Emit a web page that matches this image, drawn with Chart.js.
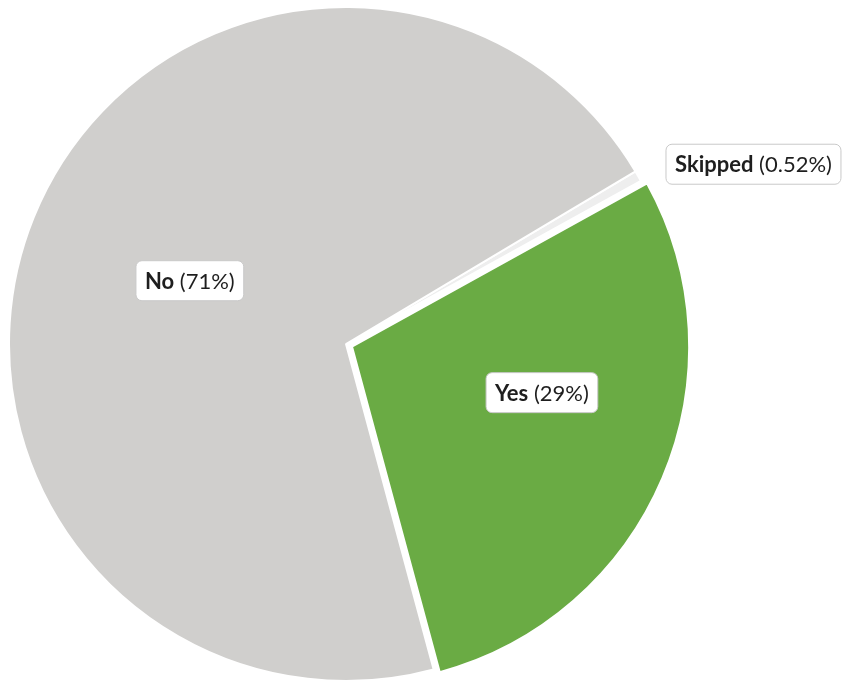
<!DOCTYPE html>
<html lang="en">
<head>
    <meta charset="UTF-8">
    <title>Survey answers</title>
    <style>
        body { margin: 0; background: #fff; }
    </style>
</head>
<body>
    <canvas id="pieChart" width="846" height="685"></canvas>

    <script src="https://cdn.jsdelivr.net/npm/chart.js"></script>

    <script>
        // Answers, in drawing order (clockwise from the rotation start)
        const answers = ['Skipped', 'Yes', 'No'];
        const shares = [0.52, 29, 71];          // percent
        const sliceColors = ['#eeeeee', '#6aab44', '#d0cfcd'];
        // Chart.js moves an arc by offset / 4 pixels
        const sliceOffsets = [0, 26, 0];

        // where each label box sits: fraction along the slice angle, fraction of radius
        const labelSpots = [
            { along: 0.5, radius: 1.095, align: 'left' },
            { along: 0.41, radius: 0.58, align: 'center' },
            { along: 0.5, radius: 0.5, align: 'center' },
        ];

        const FONT = 'Lato, "Open Sans", sans-serif';
        const FONT_SIZE = 22;

        function roundRect(c, x, y, w, h, r) {
            c.beginPath();
            c.moveTo(x + r, y);
            c.arcTo(x + w, y, x + w, y + h, r);
            c.arcTo(x + w, y + h, x, y + h, r);
            c.arcTo(x, y + h, x, y, r);
            c.arcTo(x, y, x + w, y, r);
            c.closePath();
        }

        const sliceLabels = {
            id: 'sliceLabels',
            afterDatasetsDraw(chart) {
                const c = chart.ctx;
                const arcs = chart.getDatasetMeta(0).data;
                arcs.forEach((arc, i) => {
                    const p = arc.getProps(['x', 'y', 'startAngle', 'endAngle', 'outerRadius'], true);
                    const spot = labelSpots[i];
                    const a = p.startAngle + (p.endAngle - p.startAngle) * spot.along;
                    const mid = (p.startAngle + p.endAngle) / 2;
                    const off = sliceOffsets[i] / 4;
                    let x = p.x + Math.cos(a) * p.outerRadius * spot.radius + Math.cos(mid) * off;
                    let y = p.y + Math.sin(a) * p.outerRadius * spot.radius + Math.sin(mid) * off;

                    const bold = answers[i];
                    const rest = ' (' + shares[i] + '%)';
                    c.font = 'bold ' + FONT_SIZE + 'px ' + FONT;
                    const wb = c.measureText(bold).width;
                    c.font = FONT_SIZE + 'px ' + FONT;
                    const wr = c.measureText(rest).width;
                    const padX = 9, h = 40;
                    const w = wb + wr + padX * 2;
                    const left = spot.align === 'left' ? x : x - w / 2;
                    if (spot.align === 'left') y += 4;

                    roundRect(c, left, y - h / 2, w, h, 6);
                    c.fillStyle = '#ffffff';
                    c.fill();
                    c.strokeStyle = '#c9c9c9';
                    c.lineWidth = 1;
                    c.stroke();

                    c.fillStyle = '#1e1e1e';
                    c.textBaseline = 'middle';
                    c.textAlign = 'left';
                    c.font = 'bold ' + FONT_SIZE + 'px ' + FONT;
                    c.fillText(bold, left + padX, y + 1);
                    c.font = FONT_SIZE + 'px ' + FONT;
                    c.fillText(rest, left + padX + wb, y + 1);
                });
            }
        };

        new Chart(document.getElementById('pieChart'), {
            type: 'pie',
            data: {
                labels: answers,
                datasets: [{
                    data: shares,
                    backgroundColor: sliceColors,
                    borderColor: '#ffffff',
                    borderWidth: 2,
                    offset: sliceOffsets,
                    hoverOffset: 0,
                }]
            },
            options: {
                responsive: false,
                animation: false,
                rotation: 59.2,
                radius: 337,
                layout: { padding: { left: 0, right: 154, top: 3, bottom: 0 } },
                plugins: {
                    legend: { display: false },
                    tooltip: { enabled: false },
                }
            },
            plugins: [sliceLabels]
        });
    </script>
</body>
</html>
